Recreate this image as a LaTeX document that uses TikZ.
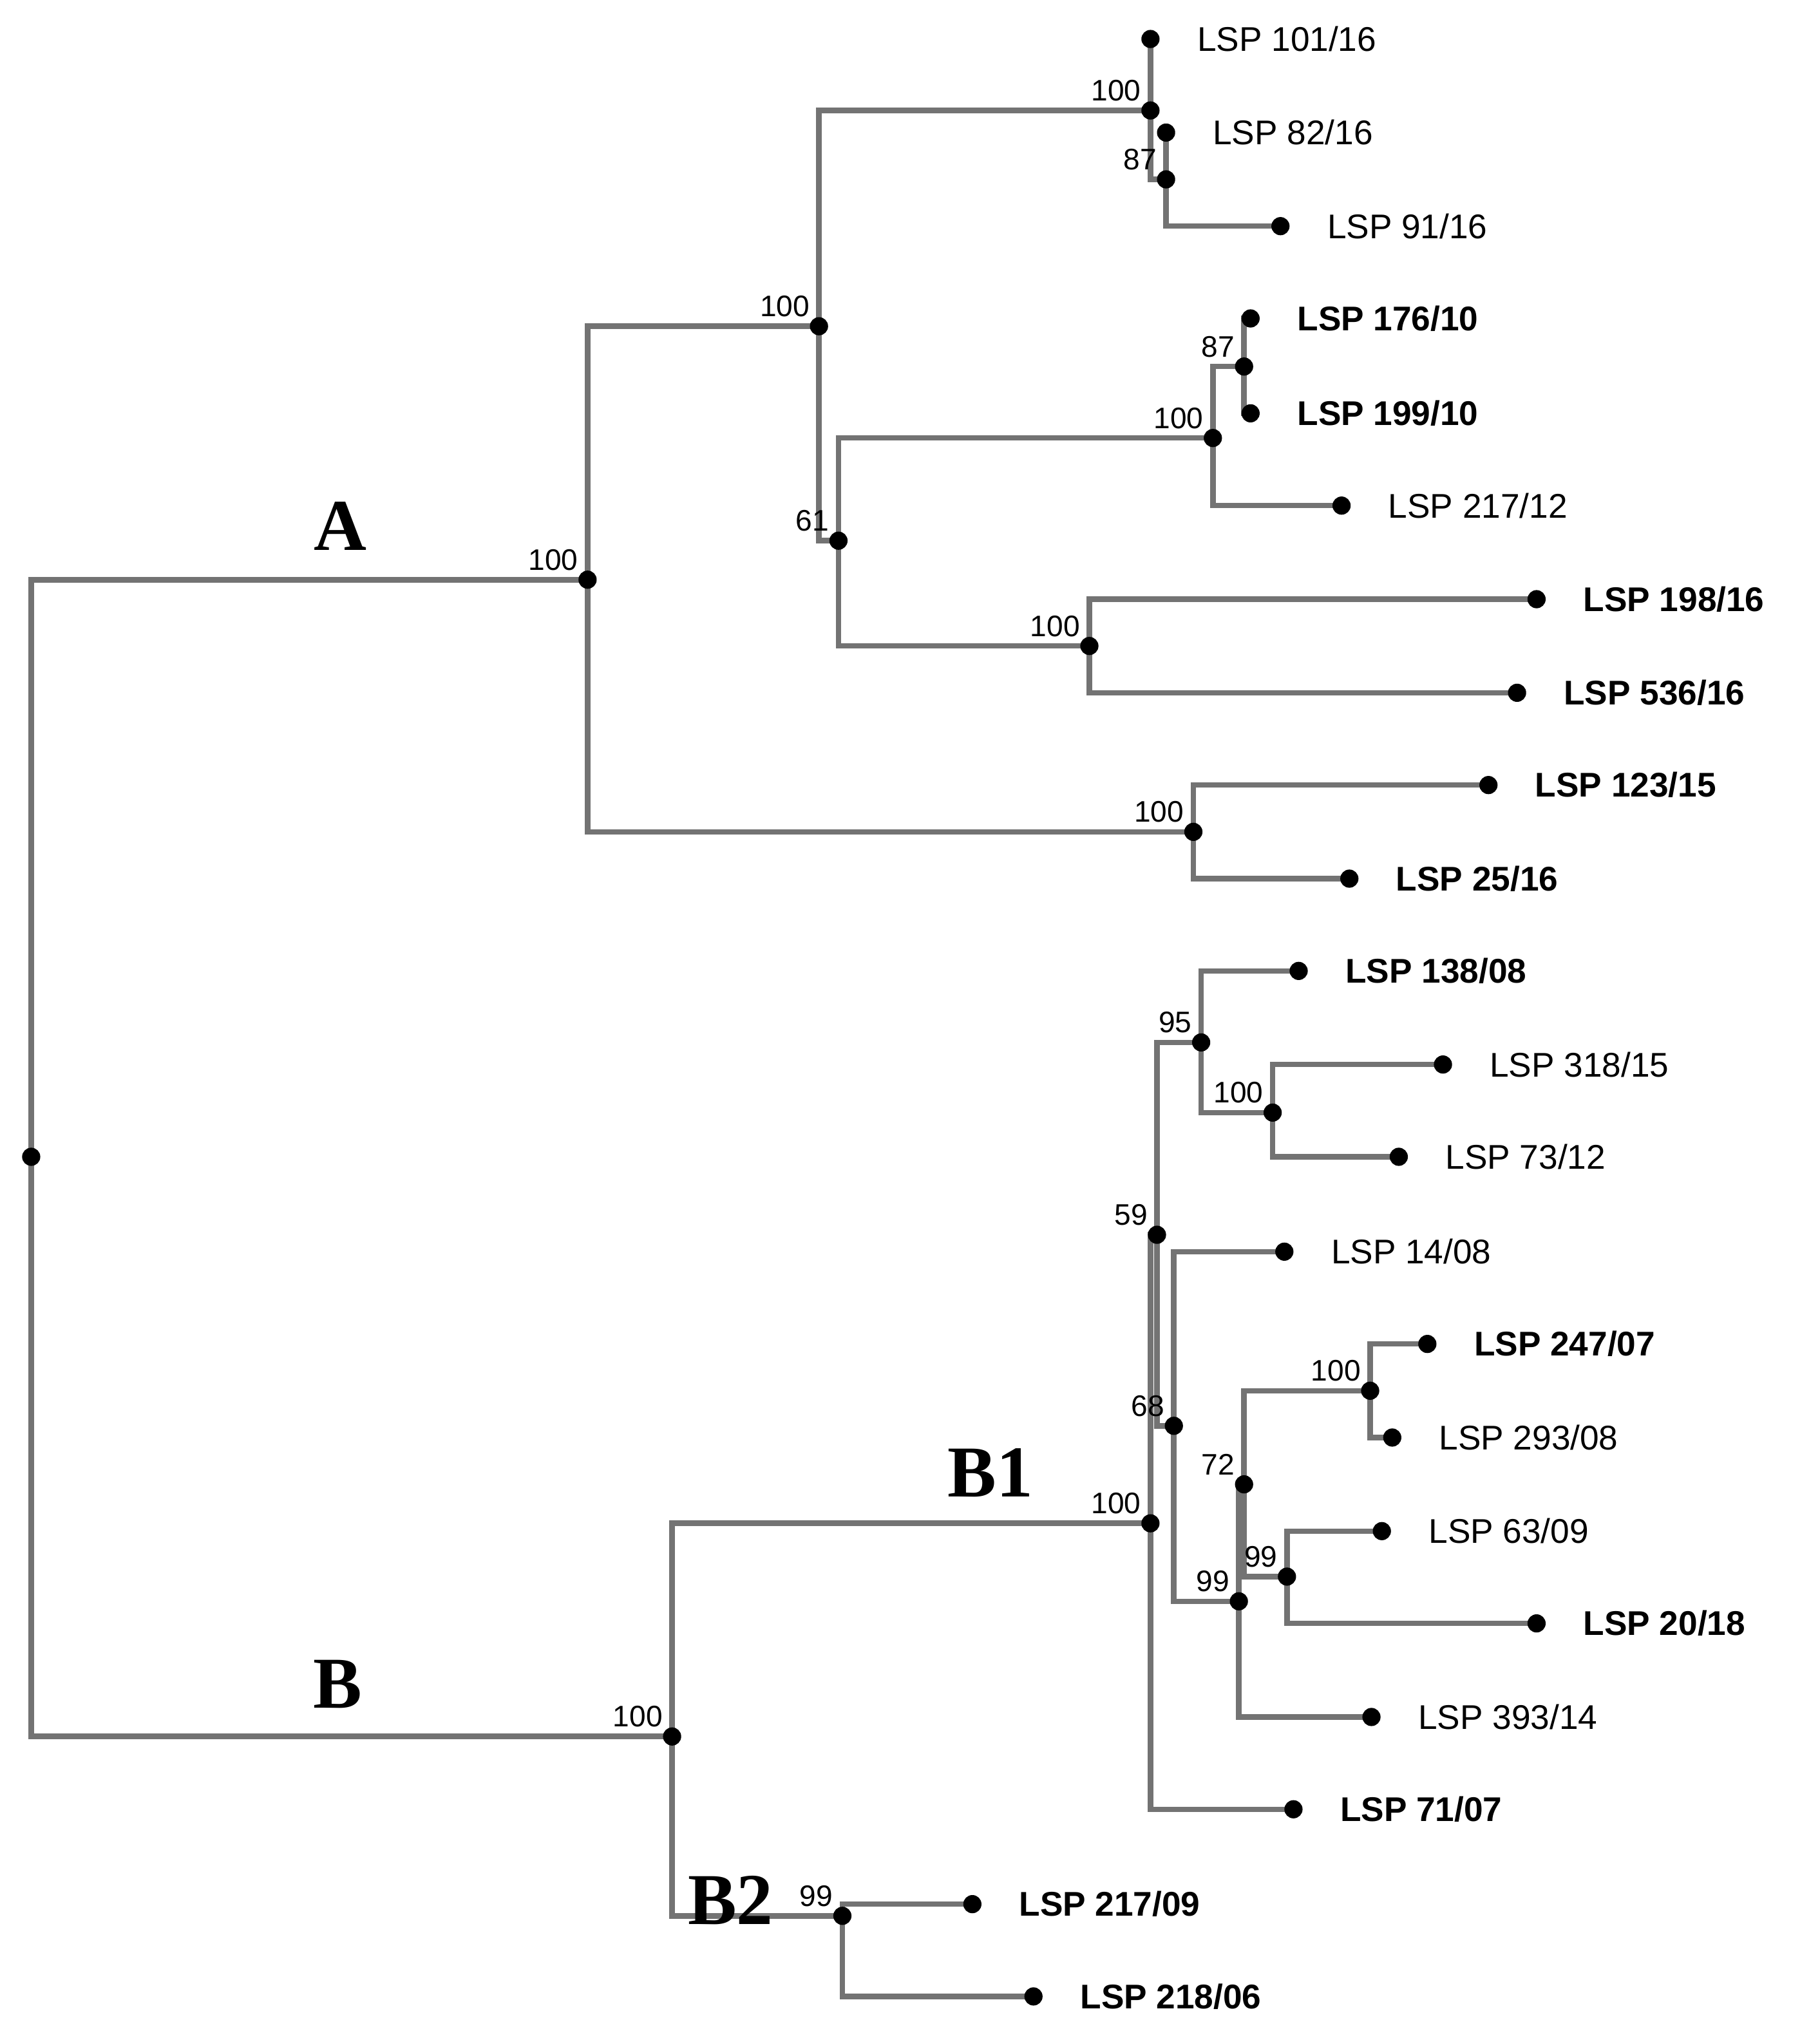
\documentclass[tikz,border=0pt]{standalone}
\usepackage{fontspec}
\setmainfont{Liberation Sans}
\newfontfamily\cladefont{Liberation Serif}
\usetikzlibrary{positioning, backgrounds}

\tikzset{
    dot/.style={circle, fill=black, inner sep=0pt, minimum size=0.28cm},
    branch/.style={draw=gray!90!black, line width=2.4pt},
    tip/.style={label={[font=\fontsize{15}{17}\selectfont, label distance=0.45cm]right:#1}},
    btip/.style={label={[font=\fontsize{15}{17}\selectfont\bfseries, label distance=0.45cm]right:#1}},
    bs/.style={label={[font=\fontsize{13}{15}\selectfont, inner sep=1pt]above left:#1}},
    clade/.style={font=\cladefont\fontsize{32}{34}\selectfont\bfseries}
}

\begin{document}
\begin{tikzpicture}[x=0.02cm, y=-0.02cm]
    \useasboundingbox (0,0) rectangle (1400,1568);

    % Root and clade A
    \node (root) [dot] at (24,890) {};
    \node (A) [dot, bs=100] at (452,446) {};
    \node (A1) [dot, bs=100] at (630,251) {};
    \node (A11) [dot, bs=100] at (885,85) {};
    \node (A111) [dot, bs=87] at (897,138) {};
    \node (L101) [dot, tip={LSP 101/16}] at (885,30) {};
    \node (L82) [dot, tip={LSP 82/16}] at (897,102) {};
    \node (L91) [dot, tip={LSP 91/16}] at (985,174) {};
    \node (A12) [dot, bs=61] at (645,416) {};
    \node (A121) [dot, bs=100] at (933,337) {};
    \node (A1211) [dot, bs=87] at (957,282) {};
    \node (L176) [dot, btip={LSP 176/10}] at (962,245) {};
    \node (L199) [dot, btip={LSP 199/10}] at (962,318) {};
    \node (L217a) [dot, tip={LSP 217/12}] at (1032,389) {};
    \node (A122) [dot, bs=100] at (838,497) {};
    \node (L198) [dot, btip={LSP 198/16}] at (1182,461) {};
    \node (L536) [dot, btip={LSP 536/16}] at (1167,533) {};
    \node (A2) [dot, bs=100] at (918,640) {};
    \node (L123) [dot, btip={LSP 123/15}] at (1145,604) {};
    \node (L25) [dot, btip={LSP 25/16}] at (1038,676) {};

    % Clade B
    \node (B) [dot, bs=100] at (517,1336) {};
    \node (B1) [dot, bs=100] at (885,1172) {};
    \node (B11) [dot, bs=59] at (890,950) {};
    \node (B111) [dot, bs=95] at (924,802) {};
    \node (L138) [dot, btip={LSP 138/08}] at (999,747) {};
    \node (B1111) [dot, bs=100] at (979,856) {};
    \node (L318) [dot, tip={LSP 318/15}] at (1110,819) {};
    \node (L73) [dot, tip={LSP 73/12}] at (1076,890) {};
    \node (B112) [dot, bs=68] at (903,1097) {};
    \node (L14) [dot, tip={LSP 14/08}] at (988,963) {};
    \node (B1121) [dot, bs=99] at (953,1232) {};
    \node (B11211) [dot, bs=72] at (957,1142) {};
    \node (B112111) [dot, bs=100] at (1054,1070) {};
    \node (L247) [dot, btip={LSP 247/07}] at (1098,1034) {};
    \node (L293) [dot, tip={LSP 293/08}] at (1071,1106) {};
    \node (B112112) [dot, bs=99] at (990,1213) {};
    \node (L63) [dot, tip={LSP 63/09}] at (1063,1178) {};
    \node (L20) [dot, btip={LSP 20/18}] at (1182,1249) {};
    \node (L393) [dot, tip={LSP 393/14}] at (1055,1321) {};
    \node (L71) [dot, btip={LSP 71/07}] at (995,1392) {};
    \node (B2) [dot, bs=99] at (648,1474) {};
    \node (L217b) [dot, btip={LSP 217/09}] at (748,1465) {};
    \node (L218) [dot, btip={LSP 218/06}] at (795,1536) {};

    % Clade names
    \node [clade] at (262,405) {A};
    \node [clade] at (260,1296) {B};
    \node [clade] at (762,1133) {B1};
    \node [clade] at (562,1462) {B2};

    % Branches
    \begin{scope}[on background layer]
        \foreach \p/\c in {root/A, root/B, A/A1, A/A2, A1/A11, A1/A12,
            A11/L101, A11/A111, A111/L82, A111/L91, A12/A121, A12/A122,
            A121/A1211, A121/L217a, A1211/L176, A1211/L199, A122/L198,
            A122/L536, A2/L123, A2/L25, B/B1, B/B2, B1/B11, B1/L71,
            B11/B111, B11/B112, B111/L138, B111/B1111, B1111/L318,
            B1111/L73, B112/L14, B112/B1121, B1121/B11211, B1121/L393,
            B11211/B112111, B11211/B112112, B112111/L247, B112111/L293,
            B112112/L63, B112112/L20, B2/L217b, B2/L218}
            \draw[branch] (\p.center) |- (\c.center);
    \end{scope}
\end{tikzpicture}
\end{document}
